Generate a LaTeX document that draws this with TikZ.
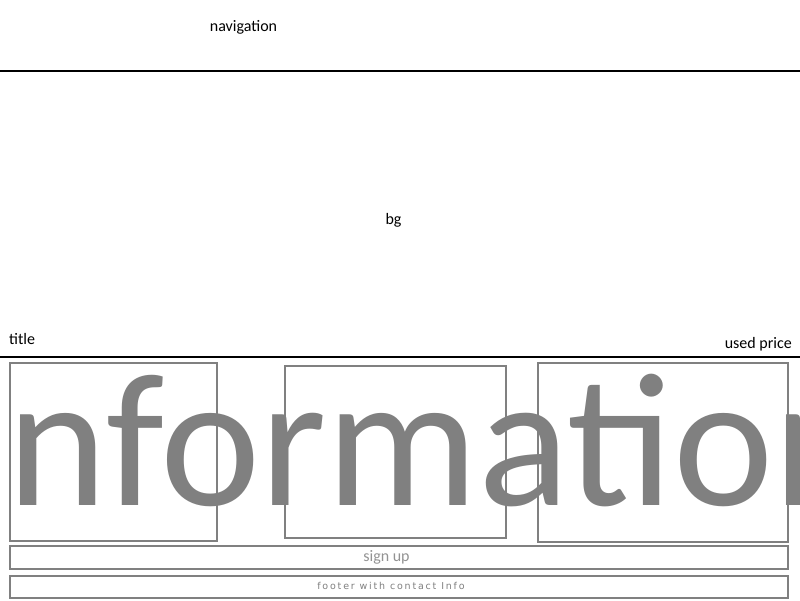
\documentclass[tikz,border=0pt]{standalone}
\usepackage{fontspec}
\setmainfont{Carlito}
\newfontfamily\footfont{DejaVu Sans}[LetterSpace=19]
\usetikzlibrary{positioning}
\definecolor{wiregrey}{HTML}{808080}
\tikzset{rule/.style={draw=black,line width=2pt}}
\tikzset{frame/.style={draw=wiregrey,line width=2pt,inner sep=0pt,anchor=north west}}
\tikzset{lbl/.style={inner sep=0pt,font=\fontsize{16}{19}\selectfont}}

\begin{document}
\begin{tikzpicture}[x=1pt,y=-1pt]
\useasboundingbox (0,0) rectangle (800,600);
\clip (0,0) rectangle (800,600);
\fill[white] (0,0) rectangle (800,600);
\node (info) at (-36,505) [anchor=base west,inner sep=0pt,text=wiregrey,font=\fontsize{190}{190}\selectfont] {information};
\draw[rule] (0,71)--(800,71) (0,357)--(800,357);
\node (cardA) at (8.5,362) [frame,minimum width=207.5,minimum height=178] {};
\node (cardB) at (284,365) [frame,minimum width=221,minimum height=172] {};
\node (cardC) at (537,362) [frame,minimum width=250,minimum height=179] {};
\node (signbox) at (8.5,545) [frame,minimum width=778.5,minimum height=23] {};
\node (footbox) at (8.5,575) [frame,minimum width=778.5,minimum height=22] {};
\node (nav) at (243.5,31) [lbl,anchor=base] {navigation};
\node (bg) at (393.5,224) [lbl,anchor=base] {bg};
\node (title) at (9,344) [lbl,anchor=base west] {title};
\node (price) at (792,348) [lbl,anchor=base east] {used price};
\node (signup) at (386.5,561) [lbl,anchor=base,text=wiregrey!85] {sign up};
\node (footer) at (391,589.5) [anchor=base,inner sep=0pt,text=wiregrey,font=\footfont\fontsize{9.5}{11}\selectfont] {footer with contact Info};
\end{tikzpicture}
\end{document}
